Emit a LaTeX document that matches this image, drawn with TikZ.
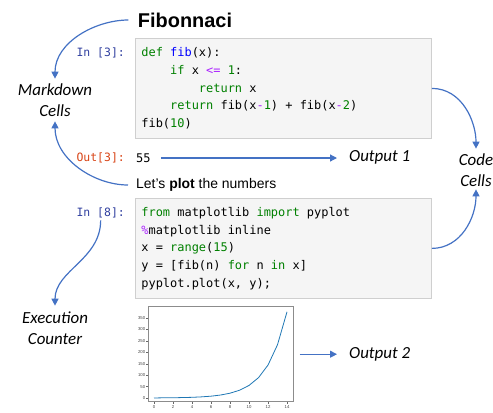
\documentclass[tikz,border=0pt]{standalone}
\usepackage{fontspec}
\setmainfont{Liberation Sans}
\setmonofont{DejaVu Sans Mono}
\newfontfamily\carlito{Carlito}
\usetikzlibrary{arrows.meta}

\definecolor{arrowblue}{HTML}{4472C4}
\definecolor{cellbg}{HTML}{F5F5F5}
\definecolor{cellborder}{HTML}{CFCFCF}
\definecolor{kwgreen}{HTML}{008000}
\definecolor{fnblue}{HTML}{0000FF}
\definecolor{opviolet}{HTML}{AA22FF}
\definecolor{inblue}{HTML}{303F9F}
\definecolor{outred}{HTML}{D84315}
\definecolor{mplblue}{HTML}{1F77B4}

\newcommand{\kw}[1]{\textcolor{kwgreen}{#1}}
\newcommand{\fn}[1]{\textcolor{fnblue}{#1}}
\newcommand{\nm}[1]{\textcolor{kwgreen}{#1}}
\newcommand{\op}[1]{\textcolor{opviolet}{#1}}
\newcommand{\codefont}[2]{\ttfamily\fontsize{#1}{#2}\selectfont}

\tikzset{
  arr/.style={-{Triangle[length=7bp,width=7bp]},line width=1.2bp,draw=arrowblue},
  cell/.style={draw=cellborder,fill=cellbg,line width=0.8bp,inner xsep=6bp,inner ysep=0pt,
    align=flush left,text width=284bp,minimum height=100bp,anchor=north west,
    font=\codefont{12}{17.75}},
  prompt/.style={anchor=east,inner sep=2bp,font=\codefont{11.5}{14}},
  lbl/.style={align=center,inner sep=2bp,font=\carlito\itshape\fontsize{17}{20.5}\selectfont},
  tick/.style={inner sep=0.5bp,text=black!75,font=\fontsize{4.3}{5}\selectfont},
}

\begin{document}
\begin{tikzpicture}[x=1bp,y=1bp]
\useasboundingbox (0,0) rectangle (493,412);

% markdown and code cells
\node[font=\bfseries\fontsize{20}{24}\selectfont] (title) at (185,392) {Fibonnaci};
\node[cell] (cell1) at (135,374) {%
\kw{def} \fn{fib}(x):\\
~~~~\kw{if} x \op{<=} \nm{1}:\\
~~~~~~~~\kw{return} x\\
~~~~\kw{return} fib(x\op{-}\nm{1}) + fib(x\op{-}\nm{2})\\
fib(\nm{10})};
\node[prompt,text=inblue] (in3) at (127,359) {In [3]:};
\node[prompt,text=outred] (out3) at (127,254) {Out[3]:};
\node[anchor=west,inner sep=2bp,font=\codefont{12}{14}] (val) at (134,254) {55};
\node[anchor=west,inner sep=2bp,font=\fontsize{14}{16}\selectfont] (plottxt) at (134,227) {Let's \textbf{plot} the numbers};
\node[cell] (cell2) at (135,214) {%
\kw{from} matplotlib \kw{import} pyplot\\
\op{\%}matplotlib inline\\
x = \kw{range}(\nm{15})\\
y = [fib(n) \kw{for} n \kw{in} x]\\
pyplot.plot(x, y);};
\node[prompt,text=inblue] (in8) at (127,199) {In [8]:};

% the figure
\node[draw=black!45,line width=0.6bp,minimum width=145bp,minimum height=95bp,inner sep=0pt,anchor=south west] (plotbox) at (148,10) {};
\begin{scope}[shift={(154,14)},x=9.5bp,y=0.2286bp]
\draw[mplblue,line width=0.8bp] plot coordinates {(0,0) (1,1) (2,1) (3,2) (4,3) (5,5) (6,8) (7,13) (8,21) (9,34) (10,55) (11,89) (12,144) (13,233) (14,377)};
\foreach \t in {0,2,...,14} {
  \draw[black!60,line width=0.3bp] (\t,-17.5) -- ++(0,-8);
  \node[tick] at (\t,-40) {\t};
}
\foreach \v in {0,50,...,350} {
  \draw[black!60,line width=0.3bp] (-0.63,\v) -- ++(-0.2,0);
  \node[tick,anchor=east] at (-0.85,\v) {\v};
}
\end{scope}

% labels
\node[lbl] (md) at (55,312) {Markdown\\Cells};
\node[lbl] (ec) at (55,84) {Execution\\Counter};
\node[lbl] (cc) at (476,242) {Code\\Cells};
\node[lbl,anchor=west] (out1) at (347,255) {Output 1};
\node[lbl,anchor=west] (out2) at (347,58) {Output 2};

% connectors
\draw[arr,shorten <=6bp,shorten >=3bp] (title.west) to[out=180,in=90] (md.north);
\draw[arr,shorten <=6bp,shorten >=3bp] (plottxt.west) to[out=180,in=-90] (md.south);
\draw[arr,shorten >=3bp] (cell1.east) to[out=0,in=90] (cc.north);
\draw[arr,shorten >=1bp] (cell2.east) to[out=0,in=-90] (cc.south);
\draw[arr,shorten >=4bp] (in8.south) to[out=-90,in=90] (ec.north);
\draw[arr,shorten <=8bp,shorten >=10bp] (val.east) -- (val.east -| out1.west);
\draw[arr,shorten <=6bp,shorten >=10bp] (plotbox.east) -- (plotbox.east -| out2.west);
\end{tikzpicture}
\end{document}
